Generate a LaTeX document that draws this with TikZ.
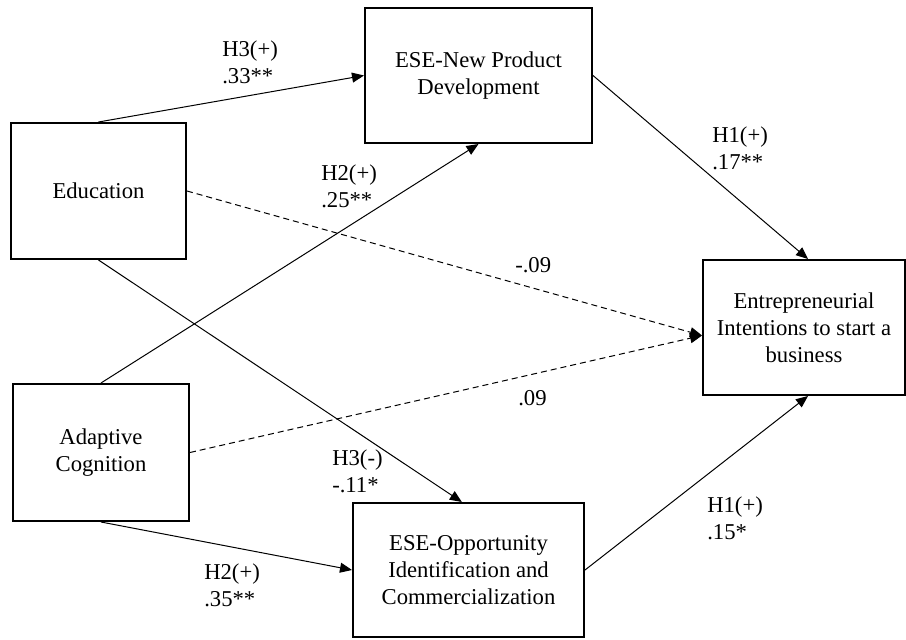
\documentclass[tikz,border=0pt]{standalone}
\usepackage{fontspec}
\setmainfont{Liberation Serif}[Ligatures=TeX]
\usetikzlibrary{arrows.meta}
\begin{document}
\begin{tikzpicture}[x=0.75pt, y=-0.75pt,
	every node/.style={font=\rmfamily\fontsize{17}{20.25}\selectfont},
	box/.style={draw, line width=1.5pt, rectangle, align=center, inner sep=0pt},
	lab/.style={anchor=west, align=left, inner sep=0pt},
	arr/.style={line width=0.75pt, -{Triangle[length=9pt, width=7.5pt]}}]
	
	\useasboundingbox (0,0) rectangle (906,639);
	
	% Variabili a sinistra
	\node[box, minimum width=131.25pt, minimum height=102pt] (edu) at (98.5,191) {Education};
	\node[box, minimum width=132pt, minimum height=102.75pt] (ada) at (101,452.5) {Adaptive\\Cognition};
	
	% Mediatori
	\node[box, minimum width=170.25pt, minimum height=101.25pt] (npd) at (478.5,75.5) {ESE-New Product\\Development};
	\node[box, minimum width=173.25pt, minimum height=100.5pt] (opp) at (468.5,570) {ESE-Opportunity\\Identification and\\Commercialization};
	
	% Esito
	\node[box, minimum width=151.5pt, minimum height=101.25pt] (ent) at (804,327.5) {Entrepreneurial\\Intentions to start a\\business};
	\coordinate (meet) at ([yshift=-6pt]ent.west);
	
	% Frecce
	\draw[arr] (edu.north) -- (npd.west);
	\draw[arr] (edu.south) -- ([xshift=-5pt]opp.north);
	\draw[arr] (ada.north) -- (npd.south);
	\draw[arr] (ada.south) -- (opp.west);
	\draw[arr] (npd.east) -- ([xshift=3pt]ent.north);
	\draw[arr] (opp.east) -- ([xshift=3pt]ent.south);
	\draw[arr, dashed, dash pattern=on 4.5pt off 3pt] (edu.east) -- (meet);
	\draw[arr, dashed, dash pattern=on 4.5pt off 3pt] (ada.east) -- (meet);
	
	% Etichette
	\node[lab] (l1) at (222,62) {H3(+)\\.33**};
	\node[lab] (l2) at (321,186) {H2(+)\\.25**};
	\node[lab] (l3) at (515,265) {-.09};
	\node[lab] (l4) at (518,398) {.09};
	\node[lab] (l5) at (332,471) {H3(-)\\-.11*};
	\node[lab] (l6) at (204,585) {H2(+)\\.35**};
	\node[lab] (l7) at (712,148) {H1(+)\\.17**};
	\node[lab] (l8) at (707,518) {H1(+)\\.15*};
	
\end{tikzpicture}
\end{document}
